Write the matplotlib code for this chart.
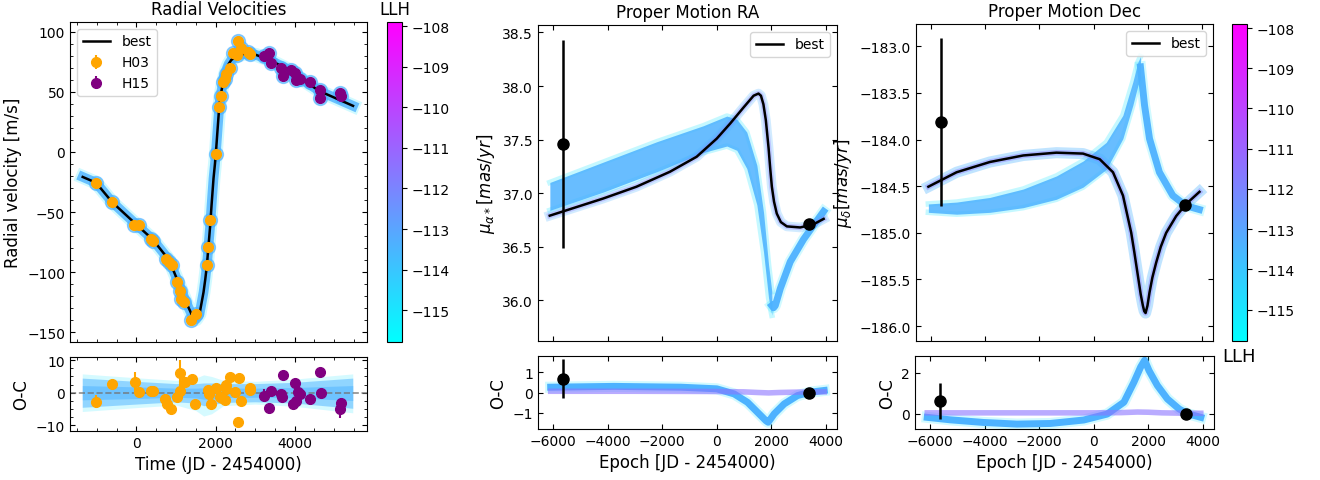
import numpy as np
import matplotlib
import matplotlib.pyplot as plt
from matplotlib.ticker import MultipleLocator

# ---- radial velocity data ----
t_h03 = [-1021, -616, -51, 76, 371, 430, 751, 835, 903, 1030, 1089, 1131, 1215,
         1384, 1494, 1781, 1814, 1865, 2000, 2084, 2135, 2186, 2228, 2270, 2354,
         2439, 2557, 2540, 2650, 2861, 2819]
rv_h03 = [-25.6, -41.7, -61, -60.6, -72, -74.4, -89, -91.7, -94, -107.8, -116, -122,
          -125, -139.4, -134.7, -93.6, -79, -57, -1.4, 37.5, 46.7, 58.3, 61, 65,
          69.4, 82, 92, 80.5, 86.7, 81, 82.8]
t_h15 = [3215, 3350, 3409, 3662, 3705, 3916, 4000, 4042, 4127, 4397, 4633, 4650,
         5139, 5181]
rv_h15 = [80, 82, 73.6, 70, 63.3, 68, 65.3, 59.7, 61, 58.3, 51.4, 45, 48.6, 46.7]

# best-fit RV curve
best_rv_t = [-1359, -1021, -616, -51, 413, 835, 1089, 1257, 1409, 1460, 1511, 1595,
             1696, 1740, 1781, 1820, 1865, 1900, 1949, 1985, 2017, 2050, 2084, 2120,
             2169, 2220, 2270, 2330, 2397, 2540, 2776, 3029, 3367, 3789, 4211, 4633,
             5055, 5477]
best_rv = [-20.8, -25.6, -41.7, -58.9, -72.8, -90.3, -111, -125, -136, -139, -139,
           -134.7, -116.7, -106, -94.4, -79, -61, -44, -22, -10, 2.8, 18, 33.3, 45,
           54.2, 62, 68, 73, 76.4, 80, 82, 80.6, 76.4, 69.4, 59.7, 50.5, 44.4, 38.3]

# RV residuals
oc_t_h03 = [-1021, -616, -25, 59, 371, 430, 726, 768, 878, 1030, 1105, 1089, 1240,
            1409, 1477, 1806, 1831, 1882, 2000, 2101, 2169, 2236, 2253, 2270, 2354,
            2481, 2591, 2574, 2650, 2861, 2878]
oc_h03 = [-2.8, 2.6, 3.4, 0.3, 0.5, 0.5, -1.8, -3.4, -5.1, -1.3, 6.2, 0.5, 3.3, 4.1,
          -3.6, 0.7, -0.5, -3.4, 1.3, -1.3, -1.7, -2.1, 2.4, 1.0, 4.8, 0.3, 4.4, -8.9,
          -2.6, 0.7, 1.5]
oc_err_h03 = [2.0, 1.2, 3.0, 1.0, 1.0, 1.0, 1.5, 1.5, 1.0, 1.0, 4.0, 1.0, 1.5, 1.5,
              1.5, 1.0, 1.0, 1.0, 1.0, 1.0, 1.0, 1.0, 1.0, 1.0, 1.0, 1.0, 1.0, 1.0,
              1.0, 1.0, 1.0]
oc_t_h15 = [3215, 3350, 3409, 3662, 3705, 3688, 3958, 4000, 4025, 4084, 4127, 4397,
            4650, 4675, 5139, 5181]
oc_h15 = [-1.0, -4.8, 0.5, -0.5, 5.6, -1.3, -3.6, 3.1, -2.6, 0.2, -0.3, -1.8, 6.5,
          0.0, -4.9, -3.1]
oc_err_h15 = [2.0, 1.0, 1.0, 1.0, 1.0, 1.0, 1.0, 1.0, 1.0, 1.0, 1.0, 1.0, 1.0, 1.0,
              3.0, 1.5]

# spread of the posterior residual curves
fan_oc_t = [-1370, 0, 1000, 1500, 1700, 1900, 2200, 3000, 4000, 5470]
fan_oc_out_hi = [5.8, 4.6, 3.8, 4.5, 5.5, 5.0, 3.8, 3.5, 4.2, 5.8]
fan_oc_out_lo = [-5.8, -4.6, -3.8, -5.5, -7.2, -6.5, -4.0, -3.5, -4.2, -6.2]
fan_oc_mid_hi = [4.5, 3.5, 2.8, 2.8, 3.0, 3.0, 2.8, 2.8, 3.2, 4.5]
fan_oc_mid_lo = [-4.5, -3.5, -2.8, -3.2, -4.0, -3.8, -3.0, -2.8, -3.2, -4.8]
fan_oc_in_hi = [2.2, 1.8, 1.4, 1.4, 1.5, 1.5, 1.4, 1.4, 1.6, 2.2]
fan_oc_in_lo = [-2.2, -1.8, -1.4, -1.6, -2.0, -1.9, -1.5, -1.4, -1.6, -2.4]

# ---- astrometry: Hipparcos and Gaia epochs ----
pm_t = [-5651, 3389]
pmra = [37.46, 36.71]
pmra_err = [0.97, 0.02]
pmdec = [-183.81, -184.70]
pmdec_err = [0.90, 0.02]
pmra_oc = [0.68, 0.0]
pmra_oc_err = [0.95, 0.02]
pmdec_oc = [0.62, 0.0]
pmdec_oc_err = [0.90, 0.02]

# best fit proper motion in RA
best_ra_t = [-6130, -4170, -2950, -1720, -740, 0, 490, 980, 1350, 1530, 1620, 1710,
             1800, 1900, 1960, 2020, 2100, 2200, 2350, 2570, 3060, 3550, 3920]
best_ra = [36.79, 36.95, 37.06, 37.20, 37.34, 37.51, 37.65, 37.80, 37.91, 37.93, 37.91,
           37.83, 37.68, 37.42, 37.23, 37.06, 36.92, 36.81, 36.73, 36.69, 36.68, 36.71,
           36.76]
# second family of orbits (RA): band edges up to the dip, then one branch
fam_ra_t = [-6125, -4165, -2205, -490, 370, 735, 1100, 1470, 1715, 1900, 2020]
fam_ra_hi = [37.10, 37.29, 37.48, 37.63, 37.72, 37.69, 37.57, 37.26, 36.82, 36.33, 36.08]
fam_ra_lo = [36.84, 37.01, 37.20, 37.38, 37.44, 37.40, 37.23, 36.89, 36.45, 36.02, 35.86]
fam_ra_br_t = [2020, 2080, 2145, 2330, 2695, 3185, 3550, 3920]
fam_ra_br = [35.95, 35.93, 35.95, 36.11, 36.36, 36.57, 36.70, 36.83]

# best fit proper motion in Dec
best_de_t = [-6103, -5060, -3830, -2600, -1375, -390, 225, 716, 1085, 1390, 1500, 1636,
             1740, 1820, 1870, 1920, 1990, 2065, 2170, 2310, 2480, 2680, 3050, 3420,
             3910]
best_de = [-184.505, -184.35, -184.24, -184.17, -184.14, -184.15, -184.21, -184.35,
           -184.60, -185.00, -185.20, -185.46, -185.66, -185.78, -185.84, -185.86,
           -185.78, -185.64, -185.48, -185.32, -185.15, -185.00, -184.82, -184.69,
           -184.56]
fam_de_t = [-6103, -5060, -3830, -2600, -1375, -390, 465, 1080, 1450, 1635, 1730]
fam_de_hi = [-184.69, -184.67, -184.62, -184.53, -184.39, -184.23, -184.03, -183.74,
             -183.38, -183.17, -183.11]
fam_de_lo = [-184.78, -184.80, -184.78, -184.73, -184.64, -184.51, -184.32, -183.99,
             -183.63, -183.42, -183.35]
fam_de_br_t = [1730, 1880, 2065, 2430, 2925, 3415, 3905]
fam_de_br = [-183.22, -183.63, -183.99, -184.35, -184.60, -184.71, -184.75]

# proper motion residuals of the second family
fam_raoc_t = [-6095, -3770, -1320, 0, 636, 1126, 1493, 1800, 1885, 2105, 2472, 2962,
              3452, 3941]
fam_raoc = [0.26, 0.30, 0.26, 0.18, -0.07, -0.48, -0.97, -1.38, -1.46, -1.05, -0.56,
            -0.15, 0.02, 0.10]
best_raoc_t = [-6095, -3000, 0, 1000, 1500, 1900, 2300, 3000, 3941]
best_raoc = [0.06, 0.06, 0.05, 0.03, 0.0, -0.02, 0.0, 0.02, 0.03]
fam_deoc_t = [-6110, -5276, -4050, -2822, -1595, -368, 490, 1104, 1472, 1718, 1865,
              2025, 2331, 2700, 3129, 3436, 3926]
fam_deoc = [-0.18, -0.30, -0.43, -0.51, -0.48, -0.31, -0.02, 0.56, 1.54, 2.28, 2.61,
            2.11, 1.38, 0.72, 0.23, 0.0, -0.18]
best_deoc_t = [-6110, -3000, 0, 1000, 1600, 2000, 2500, 3400, 3926]
best_deoc = [0.04, 0.04, 0.04, 0.05, 0.08, 0.07, 0.04, 0.02, 0.02]

llh_min, llh_max = -115.78, -107.9

cmap = plt.get_cmap('cool')
norm = matplotlib.colors.Normalize(vmin=llh_min, vmax=llh_max)
c_core = cmap(norm(-113.4))
c_light = cmap(norm(-115.0))
c_purp = cmap(norm(-111.5))

plt.rcParams['font.size'] = 10

W, H = 1320, 481


def box(x0, y0, x1, y1):
    return [x0 / W, 1 - y1 / H, (x1 - x0) / W, (y1 - y0) / H]


def style(ax):
    ax.tick_params(direction='in', top=True, right=True, which='both', labelsize=10)


def draw_family(ax, t, lo, hi, bt, b):
    ax.fill_between(t, lo, hi, color=c_core, alpha=0.85, lw=0, zorder=2)
    ax.plot(t, lo, color=c_light, lw=4, alpha=0.25, zorder=1)
    ax.plot(t, hi, color=c_light, lw=4, alpha=0.25, zorder=1)
    ax.plot(bt, b, color=c_light, lw=8, alpha=0.2, zorder=1)
    ax.plot(bt, b, color=c_core, lw=5, alpha=0.95, zorder=2)


fig = plt.figure(figsize=(13.2, 4.81), dpi=100)

# ---------------- Radial velocity ----------------
ax = fig.add_axes(box(70, 23, 367, 343))
ax.plot(best_rv_t, best_rv, color=c_light, lw=10, alpha=0.2, zorder=1)
ax.plot(best_rv_t, best_rv, color=c_core, lw=7, alpha=0.8, zorder=1)
ax.plot(t_h03, rv_h03, 'o', ms=10, color=c_core, alpha=0.6, zorder=2)
ax.plot(t_h15, rv_h15, 'o', ms=10, color=c_core, alpha=0.6, zorder=2)
ax.plot(best_rv_t, best_rv, color='k', lw=1.8, label='best', zorder=3)
ax.errorbar(t_h03, rv_h03, yerr=1.5, fmt='o', ms=7, color='orange', label='H03', zorder=4)
ax.errorbar(t_h15, rv_h15, yerr=1.5, fmt='o', ms=7, color='purple', label='H15', zorder=4)
ax.set_xlim(-1680, 5830)
ax.set_ylim(-158, 108)
ax.xaxis.set_major_locator(MultipleLocator(2000))
ax.xaxis.set_minor_locator(MultipleLocator(500))
ax.yaxis.set_minor_locator(MultipleLocator(10))
style(ax)
ax.set_xticklabels([])
ax.set_ylabel('Radial velocity [m/s]', fontsize=12)
ax.set_title('Radial Velocities', fontsize=12)
ax.legend(loc='upper left', fontsize=10)

ax = fig.add_axes(box(70, 358, 367, 432))
ax.fill_between(fan_oc_t, fan_oc_out_lo, fan_oc_out_hi, color=c_light, alpha=0.18, lw=0)
ax.fill_between(fan_oc_t, fan_oc_mid_lo, fan_oc_mid_hi, color=c_core, alpha=0.5, lw=0)
ax.fill_between(fan_oc_t, fan_oc_in_lo, fan_oc_in_hi, color=c_core, alpha=0.5, lw=0)
ax.axhline(0, color='0.45', ls='--', lw=1.2, alpha=0.8)
ax.errorbar(oc_t_h03, oc_h03, yerr=oc_err_h03, fmt='o', ms=7, color='orange')
ax.errorbar(oc_t_h15, oc_h15, yerr=oc_err_h15, fmt='o', ms=7, color='purple')
ax.set_xlim(-1680, 5830)
ax.set_ylim(-11.8, 11)
ax.xaxis.set_major_locator(MultipleLocator(2000))
ax.xaxis.set_minor_locator(MultipleLocator(500))
ax.yaxis.set_major_locator(MultipleLocator(10))
ax.yaxis.set_minor_locator(MultipleLocator(2.5))
style(ax)
ax.set_ylabel('O-C', fontsize=12)
ax.set_xlabel('Time (JD - 2454000)', fontsize=12)

sm = matplotlib.cm.ScalarMappable(norm=norm, cmap=cmap)
cax = fig.add_axes(box(387, 23, 402, 343))
cb = fig.colorbar(sm, cax=cax)
cb.set_ticks(range(-108, -116, -1))
cb.ax.tick_params(labelsize=10)
cb.ax.set_title('LLH', fontsize=12)

# ---------------- Proper motion RA ----------------
ax = fig.add_axes(box(538, 26, 837, 342))
draw_family(ax, fam_ra_t, fam_ra_lo, fam_ra_hi, fam_ra_br_t, fam_ra_br)
ax.plot(best_ra_t, best_ra, color=c_core, lw=7, alpha=0.25, zorder=2)
ax.plot(best_ra_t, best_ra, color=c_purp, lw=4, alpha=0.3, zorder=2)
ax.plot(best_ra_t, best_ra, color='k', lw=1.8, label='best', zorder=3)
ax.errorbar(pm_t, pmra, yerr=pmra_err, fmt='o', ms=8, color='k', lw=1.8, zorder=4)
ax.set_xlim(-6560, 4410)
ax.set_ylim(35.62, 38.57)
ax.xaxis.set_major_locator(MultipleLocator(2000))
ax.yaxis.set_major_locator(MultipleLocator(0.5))
style(ax)
ax.set_xticklabels([])
ax.set_ylabel(r'$\mu_{\alpha*} [mas/yr]$', fontsize=12)
ax.set_title('Proper Motion RA', fontsize=12)
ax.legend(loc='upper right', fontsize=10)

ax = fig.add_axes(box(538, 357, 837, 430))
ax.plot(fam_raoc_t, fam_raoc, color=c_light, lw=8, alpha=0.2)
ax.plot(fam_raoc_t, fam_raoc, color=c_core, lw=5)
ax.plot(best_raoc_t, best_raoc, color=c_purp, lw=4, alpha=0.6)
ax.errorbar(pm_t, pmra_oc, yerr=pmra_oc_err, fmt='o', ms=8, color='k', lw=1.8, zorder=4)
ax.set_xlim(-6560, 4410)
ax.set_ylim(-1.79, 1.79)
ax.xaxis.set_major_locator(MultipleLocator(2000))
ax.yaxis.set_major_locator(MultipleLocator(1))
style(ax)
ax.set_ylabel('O-C', fontsize=12)
ax.set_xlabel('Epoch [JD - 2454000)', fontsize=12)

# ---------------- Proper motion Dec ----------------
ax = fig.add_axes(box(916, 25, 1213, 342))
draw_family(ax, fam_de_t, fam_de_lo, fam_de_hi, fam_de_br_t, fam_de_br)
ax.plot(best_de_t, best_de, color=c_core, lw=8, alpha=0.35, zorder=2)
ax.plot(best_de_t, best_de, color=c_purp, lw=4, alpha=0.4, zorder=2)
ax.plot(best_de_t, best_de, color='k', lw=1.8, label='best', zorder=3)
ax.errorbar(pm_t, pmdec, yerr=pmdec_err, fmt='o', ms=8, color='k', lw=1.8, zorder=4)
ax.set_xlim(-6560, 4410)
ax.set_ylim(-186.16, -182.76)
ax.xaxis.set_major_locator(MultipleLocator(2000))
ax.yaxis.set_major_locator(MultipleLocator(0.5))
style(ax)
ax.set_xticklabels([])
ax.set_ylabel(r'$\mu_{\delta} [mas/yr]$', fontsize=12)
ax.set_title('Proper Motion Dec', fontsize=12)
ax.legend(loc='upper right', fontsize=10)

ax = fig.add_axes(box(915, 357, 1214, 430))
ax.plot(fam_deoc_t, fam_deoc, color=c_light, lw=8, alpha=0.2)
ax.plot(fam_deoc_t, fam_deoc, color=c_core, lw=5)
ax.plot(best_deoc_t, best_deoc, color=c_purp, lw=4, alpha=0.6)
ax.errorbar(pm_t, pmdec_oc, yerr=pmdec_oc_err, fmt='o', ms=8, color='k', lw=1.8, zorder=4)
ax.set_xlim(-6560, 4410)
ax.set_ylim(-0.75, 2.82)
ax.xaxis.set_major_locator(MultipleLocator(2000))
ax.yaxis.set_major_locator(MultipleLocator(2))
style(ax)
ax.set_ylabel('O-C', fontsize=12)
ax.set_xlabel('Epoch [JD - 2454000)', fontsize=12)

cax = fig.add_axes(box(1232, 25, 1247, 342))
cb = fig.colorbar(sm, cax=cax)
cb.set_ticks(range(-108, -116, -1))
cb.ax.tick_params(labelsize=10)
cb.ax.set_xlabel('LLH', fontsize=13)

fig.savefig('out.png', dpi=100)
